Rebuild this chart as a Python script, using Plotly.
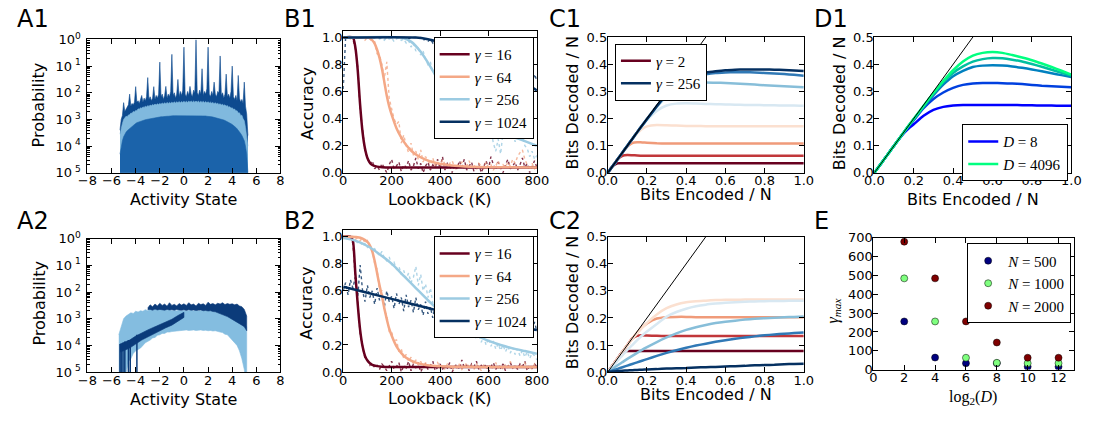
import plotly.graph_objects as go

W, H = 1099, 423
FONT = "DejaVu Sans"
SERIF = "Liberation Serif"


def px(x):
    return x / W


def py(y):
    return 1 - y / H


# ------------------------------------------------------------------ A1 data
# log10(probability) per activity-state bin
a1_state = [round(-5.3 + 0.1 * i, 1) for i in range(107)]
a1_peak_log = [
    -3.40, -3.00, -2.85, -2.37,
    -2.70, -2.60, -2.55, -2.45, -2.05, -2.50, -2.40, -2.45, -2.35, -1.77,
    -2.35, -2.30, -2.40, -2.25, -2.10, -2.35, -2.20, -2.30, -2.15, -1.43,
    -2.25, -2.15, -2.30, -2.20, -1.77, -2.25, -2.10, -2.20, -2.05, -0.85,
    -2.15, -2.05, -2.25, -2.10, -1.76, -2.20, -2.05, -2.15, -1.95, -0.56,
    -2.10, -2.00, -2.20, -2.05, -1.50, -2.15, -1.95, -2.10, -1.90, -0.29,
    -2.05, -2.15, -1.95, -2.10, -1.76, -2.05, -2.15, -1.90, -2.00, -0.01,
    -2.00, -2.10, -1.90, -2.05, -1.10, -2.10, -1.95, -2.05, -1.85, -0.29,
    -2.05, -2.15, -1.95, -2.10, -1.60, -2.05, -2.15, -1.95, -2.00, -0.62,
    -2.10, -2.00, -2.20, -2.05, -1.30, -2.15, -2.05, -2.20, -1.95, -1.00,
    -2.15, -2.25, -2.10, -2.30, -1.35, -2.20, -2.35, -2.25, -2.40, -1.60,
    -2.50, -2.80, -3.60,
]
a1_band_log = [
    -3.55, -3.30, -3.15, -3.00,
    -2.95, -2.88, -2.90, -2.83, -2.82, -2.76, -2.77, -2.70, -2.72, -2.66,
    -2.67, -2.60, -2.62, -2.56, -2.58, -2.53, -2.55, -2.50, -2.53, -2.48,
    -2.51, -2.46, -2.49, -2.44, -2.47, -2.42, -2.46, -2.41, -2.44, -2.40,
    -2.43, -2.38, -2.42, -2.37, -2.41, -2.36, -2.40, -2.36, -2.39, -2.35,
    -2.39, -2.34, -2.38, -2.34, -2.37, -2.33, -2.37, -2.33, -2.36, -2.32,
    -2.36, -2.32, -2.36, -2.31, -2.35, -2.31, -2.35, -2.31, -2.35, -2.31,
    -2.35, -2.31, -2.36, -2.32, -2.36, -2.32, -2.37, -2.33, -2.37, -2.34,
    -2.38, -2.35, -2.39, -2.36, -2.41, -2.37, -2.42, -2.39, -2.44, -2.41,
    -2.46, -2.43, -2.48, -2.45, -2.50, -2.48, -2.54, -2.52, -2.58, -2.56,
    -2.62, -2.61, -2.68, -2.67, -2.76, -2.75, -2.85, -2.84, -2.97, -3.05,
    -3.30, -3.70, -4.00,
]
a1_core_log = [
    -4.30, -4.00, -3.80, -3.65,
    -3.55, -3.48, -3.42, -3.38, -3.33, -3.28, -3.25, -3.21, -3.18, -3.15,
    -3.12, -3.10, -3.08, -3.06, -3.05, -3.03, -3.02, -3.01, -3.00, -2.99,
    -2.98, -2.97, -2.96, -2.95, -2.94, -2.93, -2.93, -2.92, -2.92, -2.91,
    -2.90, -2.90, -2.89, -2.89, -2.88, -2.88, -2.88, -2.87, -2.87, -2.87,
    -2.86, -2.86, -2.86, -2.86, -2.85, -2.85, -2.85, -2.85, -2.85, -2.85,
    -2.85, -2.85, -2.85, -2.85, -2.85, -2.85, -2.85, -2.85, -2.85, -2.85,
    -2.85, -2.85, -2.86, -2.86, -2.86, -2.87, -2.87, -2.87, -2.88, -2.88,
    -2.89, -2.89, -2.90, -2.91, -2.92, -2.93, -2.94, -2.95, -2.96, -2.97,
    -2.98, -3.00, -3.02, -3.04, -3.06, -3.08, -3.10, -3.13, -3.16, -3.19,
    -3.22, -3.26, -3.30, -3.35, -3.40, -3.46, -3.53, -3.60, -3.70, -3.80,
    -4.00, -4.30, -5.00,
]

# ------------------------------------------------------------------ A2 data
a2_light_state = [round(-5.4 + 0.2 * i, 1) for i in range(54)]
a2_light_hi_log = [
    -3.60, -3.30, -3.00, -2.90, -2.85, -2.78, -2.80, -2.72, -2.75, -2.70,
    -2.72, -2.66, -2.70, -2.65, -2.68, -2.64, -2.67, -2.63, -2.66, -2.64,
    -2.68, -2.65, -2.70, -2.68, -2.70, -2.67, -2.70, -2.68, -2.71, -2.69,
    -2.67, -2.70, -2.68, -2.71, -2.69, -2.67, -2.70, -2.68, -2.71, -2.72,
    -2.72, -2.76, -2.80, -2.84, -2.86, -2.85, -2.90, -2.92, -2.95, -3.00,
    -3.05, -3.10, -3.20, -3.30,
]
a2_light_lo_log = [
    -5.5, -5.5, -5.5, -5.0, -4.6, -4.5, -4.3, -4.2, -4.15, -4.1,
    -4.0, -3.9, -3.85, -3.8, -3.72, -3.7, -3.62, -3.6, -3.55, -3.55,
    -3.5, -3.5, -3.48, -3.45, -3.44, -3.43, -3.42, -3.43, -3.42, -3.44,
    -3.43, -3.42, -3.44, -3.43, -3.42, -3.44, -3.43, -3.45, -3.44, -3.46,
    -3.45, -3.48, -3.5, -3.52, -3.58, -3.6, -3.7, -3.8, -3.9, -4.0,
    -4.2, -4.5, -4.9, -5.5,
]
a2_dark_state = [round(-3.0 + 0.2 * i, 1) for i in range(42)]
a2_dark_hi_log = [
    -2.60, -2.48, -2.55, -2.45, -2.52, -2.42, -2.50, -2.45, -2.53, -2.40,
    -2.50, -2.46, -2.52, -2.43, -2.49, -2.44, -2.50, -2.40, -2.48, -2.45,
    -2.52, -2.42, -2.47, -2.44, -2.50, -2.38, -2.46, -2.43, -2.48, -2.42,
    -2.45, -2.40, -2.47, -2.43, -2.46, -2.44, -2.48, -2.45, -2.52, -2.55,
    -2.65, -2.90,
]
a2_dark_lo_log = [
    -2.66, -2.65, -2.68, -2.64, -2.67, -2.65, -2.66, -2.68, -2.65, -2.67,
    -2.66, -2.68, -2.65, -2.67, -2.68, -2.66, -2.69, -2.66, -2.68, -2.67,
    -2.69, -2.68, -2.67, -2.70, -2.69, -2.71, -2.70, -2.73, -2.74, -2.78,
    -2.82, -2.85, -2.88, -2.92, -2.97, -3.02, -3.08, -3.13, -3.18, -3.24,
    -3.30, -3.45,
]
a2_tail_state = [-5.3, -5.0, -4.5, -4.0, -3.5, -3.0, -2.5, -2.0, -1.5, -1.0, -0.5, 0.0]
a2_tail_hi_log = [-3.95, -3.9, -3.8, -3.65, -3.52, -3.42, -3.32, -3.22, -3.12, -3.02, -2.88, -2.76]
a2_tail_lo_log = [-4.25, -4.2, -4.1, -3.95, -3.8, -3.68, -3.56, -3.45, -3.34, -3.24, -3.1, -2.95]
a2_dropout_state = [-5.3, -5.2, -5.05, -4.9, -4.6, -4.45, -3.9]
a2_dropout_top_log = [-3.95, -4.0, -3.9, -3.85, -3.8, -3.8, -3.6]

# ------------------------------------------------------------------ B data
b_gammas = ["16", "64", "256", "1024"]
b_lookback = list(range(0, 801, 10))

b1_data = {
    "16": [1.0, 1.0, 1.0, 1.0, 0.99,
           0.92, 0.78, 0.47, 0.32, 0.15, 0.12, 0.06, 0.09, 0.03, 0.05,
           0.02, 0.07, 0.04, 0.0, 0.06, 0.1, 0.03, 0.05, 0.08, 0.01,
           0.06, 0.04, 0.09, 0.02, 0.05, 0.11, 0.03, 0.07, 0.0, 0.05,
           0.08, 0.02, 0.06, 0.04, 0.1, 0.03, 0.12, 0.02, 0.07, 0.05,
           0.0, 0.06, 0.03, 0.09, 0.04, 0.1, 0.02, 0.05, 0.08, 0.01,
           0.04, 0.07, 0.0, 0.05, 0.09, 0.03, 0.12, 0.06, 0.02, 0.08,
           0.04, 0.0, 0.06, 0.1, 0.03, 0.05, 0.08, 0.02, 0.06, 0.11,
           0.04, 0.07, 0.0, 0.05, 0.09, 0.04],
    "64": [1.0, 1.0, 1.0, 0.99, 1.0, 1.0, 0.99, 1.0, 1.0, 0.98, 1.0,
           0.99, 0.97, 0.97, 0.88, 0.87, 0.8, 0.7, 0.82, 0.55, 0.47,
           0.4, 0.36, 0.38, 0.22, 0.28, 0.2, 0.15, 0.22, 0.13, 0.16,
           0.1, 0.17, 0.08, 0.12, 0.09, 0.06, 0.11, 0.05, 0.08, 0.04,
           0.1, 0.06, 0.03, 0.07, 0.09, 0.04, 0.02, 0.06, 0.08, 0.03,
           0.05, 0.09, 0.04, 0.06, 0.02, 0.07, 0.05, 0.03, 0.08, 0.04,
           0.06, 0.02, 0.05, 0.09, 0.03, 0.06, 0.04, 0.08, 0.05, 0.1,
           0.07, 0.12, 0.15, 0.17, 0.1, 0.06, 0.04, 0.07, 0.03, 0.05],
    "256": [1.0, 1.0, 1.0, 1.0, 1.0, 1.0, 1.0, 1.0, 1.0, 1.0, 1.0, 1.0, 1.0,
            1.0, 1.0, 0.99, 1.0, 0.98, 1.0, 0.99, 1.0, 0.97, 0.99, 1.0, 0.98,
            0.99, 0.96, 0.98, 0.93, 0.96, 0.9, 0.92, 0.87, 0.9, 0.84,
            0.8, 0.82, 0.74, 0.77, 0.68, 0.66, 0.6, 0.63, 0.55, 0.5,
            0.53, 0.45, 0.41, 0.44, 0.37, 0.4, 0.36, 0.38, 0.34, 0.37,
            0.33, 0.37, 0.32, 0.3, 0.35, 0.28, 0.32, 0.22, 0.16, 0.25,
            0.14, 0.3, 0.34, 0.27, 0.32, 0.29, 0.23, 0.31, 0.34, 0.28,
            0.2, 0.18, 0.12, 0.16, 0.1, 0.13],
    "1024": [0.62,
             1.0, 1.0, 1.0, 1.0, 1.0, 1.0, 1.0, 1.0, 1.0, 1.0,
             1.0, 1.0, 1.0, 1.0, 1.0, 1.0, 1.0, 1.0, 1.0, 1.0,
             1.0, 1.0, 1.0, 1.0, 1.0, 1.0, 0.99, 1.0, 1.0,
             1.0, 0.99, 1.0, 0.98, 0.99, 0.97, 0.99, 0.96, 0.98, 0.95,
             0.97, 0.94, 0.96, 0.93, 0.95, 0.92, 0.94, 0.9, 0.93, 0.89,
             0.91, 0.87, 0.9, 0.86, 0.88, 0.84, 0.87, 0.82, 0.85, 0.8,
             0.83, 0.78, 0.81, 0.76, 0.8, 0.74, 0.78, 0.72, 0.76, 0.7,
             0.74, 0.68, 0.72, 0.66, 0.7, 0.64, 0.69, 0.72, 0.66, 0.73, 0.68],
}
b1_fit_k = {
    "16": [0, 40, 50, 60, 70, 80, 90, 100, 110, 120, 140, 160, 200, 800],
    "64": [0, 100, 110, 120, 130, 140, 150, 160, 170, 180, 190, 200, 220, 240, 260, 280,
           300, 340, 380, 420, 460, 500, 600, 800],
    "256": [0, 240, 280, 320, 360, 400, 440, 480, 520, 560, 600, 650, 700, 750, 800],
    "1024": [0, 300, 350, 400, 450, 500, 550, 600, 650, 700, 750, 800],
}
b1_fit_acc = {
    "16": [1.0, 1.0, 0.93, 0.76, 0.5, 0.3, 0.18, 0.11, 0.075, 0.058, 0.046, 0.042, 0.04, 0.04],
    "64": [1.0, 1.0, 0.995, 0.98, 0.955, 0.91, 0.85, 0.77, 0.67, 0.57, 0.49, 0.43, 0.33, 0.26,
           0.205, 0.165, 0.135, 0.097, 0.075, 0.061, 0.052, 0.047, 0.042, 0.04],
    "256": [1.0, 1.0, 0.97, 0.895, 0.785, 0.66, 0.54, 0.45, 0.39, 0.355, 0.33, 0.3, 0.267,
            0.234, 0.2],
    "1024": [1.0, 1.0, 0.987, 0.965, 0.937, 0.903, 0.864, 0.82, 0.77, 0.72, 0.665, 0.61],
}

b2_data = {
    "16": [1.0, 1.0, 1.0, 0.99,
           0.95, 0.7, 0.52, 0.28, 0.2, 0.1, 0.09, 0.05, 0.07, 0.03, 0.05, 0.02, 0.06, 0.04, 0.01, 0.05,
           0.08, 0.02, 0.04, 0.07, 0.0, 0.05, 0.03, 0.08, 0.01, 0.06,
           0.03, 0.07, 0.0, 0.04, 0.06, 0.02, 0.05, 0.08, 0.01, 0.04,
           0.06, 0.02, 0.05, 0.03, 0.07, 0.0, 0.04, 0.06, 0.02, 0.09,
           0.03, 0.05, 0.01, 0.06, 0.04, 0.08, 0.02, 0.05, 0.03, 0.06,
           0.0, 0.04, 0.07, 0.02, 0.05, 0.03, 0.06, 0.01, 0.04, 0.07,
           0.03, 0.05, 0.02, 0.06, 0.04, 0.08, 0.01, 0.05, 0.03, 0.06, 0.04],
    "64": [0.98, 1.0, 0.99, 0.97, 1.0, 0.98, 0.99, 0.97, 0.99, 0.95,
           0.97, 0.92, 0.9, 0.8, 0.76, 0.6, 0.6, 0.45, 0.42, 0.3,
           0.3, 0.22, 0.24, 0.15, 0.17, 0.1, 0.13, 0.08, 0.11, 0.06,
           0.09, 0.05, 0.08, 0.03, 0.07, 0.04, 0.06, 0.02, 0.05, 0.07,
           0.03, 0.05, 0.02, 0.06, 0.04, 0.01, 0.05, 0.03, 0.06, 0.02,
           0.04, 0.07, 0.03, 0.05, 0.02, 0.06, 0.04, 0.01, 0.05, 0.03,
           0.06, 0.02, 0.04, 0.07, 0.03, 0.05, 0.02, 0.06, 0.04, 0.08,
           0.03, 0.05, 0.02, 0.06, 0.04, 0.07, 0.03, 0.05, 0.02, 0.06, 0.04],
    "256": [1.0, 0.98, 0.99, 0.97, 0.96, 0.98, 0.95, 0.96, 0.93, 0.95,
            0.92, 0.94, 0.9, 0.91, 0.88, 0.86, 0.89, 0.84, 0.82, 0.85,
            0.79, 0.81, 0.76, 0.78, 0.72, 0.75, 0.69, 0.73, 0.66, 0.7,
            0.78, 0.64, 0.72, 0.6, 0.65, 0.55, 0.62, 0.51, 0.55, 0.47,
            0.5, 0.43, 0.48, 0.4, 0.43, 0.36, 0.4, 0.33, 0.37, 0.3,
            0.34, 0.29, 0.31, 0.26, 0.3, 0.24, 0.28, 0.22, 0.26, 0.2,
            0.25, 0.19, 0.23, 0.17, 0.21, 0.16, 0.2, 0.15, 0.19, 0.14,
            0.18, 0.13, 0.17, 0.12, 0.16, 0.11, 0.15, 0.1, 0.14, 0.12, 0.09],
    "1024": [0.6, 0.66, 0.57, 0.68, 0.62, 0.7, 0.55, 0.79, 0.6, 0.52,
             0.64, 0.55, 0.6, 0.5, 0.62, 0.53, 0.58, 0.48, 0.6, 0.52,
             0.56, 0.47, 0.58, 0.5, 0.55, 0.45, 0.57, 0.48, 0.53, 0.44,
             0.55, 0.46, 0.5, 0.42, 0.52, 0.43, 0.48, 0.4, 0.5, 0.42,
             0.47, 0.38, 0.46, 0.4, 0.35, 0.44, 0.37, 0.42, 0.34, 0.43,
             0.36, 0.41, 0.33, 0.4, 0.35, 0.42, 0.32, 0.39, 0.34, 0.4,
             0.31, 0.38, 0.33, 0.37, 0.3, 0.36, 0.32, 0.38, 0.29, 0.35,
             0.31, 0.36, 0.28, 0.34, 0.3, 0.35, 0.27, 0.33, 0.29, 0.37, 0.3],
}
b2_fit_k = {
    "16": [0, 30, 40, 50, 60, 70, 80, 90, 100, 110, 120, 140, 160, 200, 800],
    "64": [0, 60, 80, 100, 110, 120, 130, 140, 150, 160, 170, 180, 190, 200, 220, 240, 260,
           280, 300, 340, 380, 450, 550, 800],
    "256": [0, 50, 100, 150, 200, 250, 300, 350, 400, 450, 500, 550, 600, 650, 700, 750, 800],
    "1024": [0, 100, 200, 300, 400, 500, 600, 700, 800],
}
b2_fit_acc = {
    "16": [1.0, 1.0, 0.97, 0.73, 0.5, 0.31, 0.19, 0.12, 0.085, 0.065, 0.053, 0.044, 0.04,
           0.038, 0.038],
    "64": [1.0, 0.995, 0.985, 0.96, 0.935, 0.89, 0.82, 0.73, 0.64, 0.56, 0.47, 0.39, 0.32,
           0.27, 0.19, 0.14, 0.105, 0.085, 0.07, 0.053, 0.045, 0.04, 0.038, 0.037],
    "256": [0.99, 0.97, 0.93, 0.87, 0.8, 0.71, 0.62, 0.53, 0.45, 0.38, 0.32, 0.27, 0.23, 0.2,
            0.175, 0.155, 0.135],
    "1024": [0.63, 0.585, 0.54, 0.495, 0.45, 0.41, 0.375, 0.34, 0.31],
}

# ------------------------------------------------------------------ C / D data
bits_encoded = [0.0, 0.025, 0.05, 0.075, 0.1, 0.125, 0.15, 0.175, 0.2, 0.25, 0.3, 0.35, 0.4,
                0.45, 0.5, 0.55, 0.6, 0.65, 0.7, 0.75, 0.8, 0.85, 0.9, 0.95, 1.0]
identity_line = [0.0, 1.0]
c_gammas = ["2", "4", "8", "16", "32", "64", "128", "256"]
c1_decoded = {
    "2": [0.0, 0.025, 0.035, 0.035, 0.035, 0.035, 0.035, 0.035, 0.035, 0.035, 0.035, 0.035,
          0.035, 0.035, 0.035, 0.035, 0.035, 0.035, 0.035, 0.035, 0.035, 0.035, 0.035, 0.035, 0.035],
    "4": [0.0, 0.025, 0.05, 0.063, 0.066, 0.065, 0.064, 0.063, 0.063, 0.063, 0.063, 0.063,
          0.063, 0.063, 0.063, 0.063, 0.063, 0.063, 0.063, 0.063, 0.063, 0.063, 0.063, 0.063, 0.063],
    "8": [0.0, 0.025, 0.05, 0.075, 0.097, 0.11, 0.113, 0.112, 0.111, 0.109, 0.108, 0.108,
          0.108, 0.108, 0.108, 0.108, 0.108, 0.108, 0.108, 0.108, 0.108, 0.108, 0.108, 0.108, 0.108],
    "16": [0.0, 0.025, 0.05, 0.075, 0.1, 0.124, 0.145, 0.162, 0.171, 0.176, 0.175, 0.174,
           0.173, 0.173, 0.172, 0.172, 0.172, 0.172, 0.172, 0.172, 0.172, 0.172, 0.172, 0.172, 0.172],
    "32": [0.0, 0.025, 0.05, 0.075, 0.1, 0.125, 0.149, 0.172, 0.194, 0.228, 0.248, 0.255,
           0.256, 0.255, 0.254, 0.253, 0.252, 0.251, 0.25, 0.25, 0.249, 0.249, 0.248, 0.248, 0.247],
    "64": [0.0, 0.025, 0.05, 0.075, 0.1, 0.125, 0.15, 0.174, 0.198, 0.243, 0.283, 0.312,
           0.327, 0.332, 0.333, 0.332, 0.331, 0.329, 0.327, 0.325, 0.323, 0.321, 0.319, 0.317, 0.315],
    "128": [0.0, 0.025, 0.05, 0.075, 0.1, 0.125, 0.15, 0.174, 0.198, 0.245, 0.29, 0.322,
            0.342, 0.355, 0.363, 0.368, 0.37, 0.371, 0.371, 0.37, 0.368, 0.366, 0.364, 0.361, 0.358],
    "256": [0.0, 0.025, 0.05, 0.075, 0.1, 0.125, 0.15, 0.174, 0.198, 0.246, 0.292, 0.327,
            0.348, 0.361, 0.369, 0.374, 0.378, 0.38, 0.381, 0.381, 0.381, 0.38, 0.379, 0.377, 0.375],
}
c2_decoded = {
    "2": [0.0, 0.025, 0.05, 0.075, 0.078, 0.078, 0.078, 0.078, 0.078, 0.078, 0.078, 0.078,
          0.078, 0.078, 0.078, 0.078, 0.078, 0.078, 0.078, 0.078, 0.078, 0.078, 0.078, 0.078, 0.078],
    "4": [0.0, 0.025, 0.05, 0.075, 0.1, 0.124, 0.134, 0.136, 0.135, 0.134, 0.133, 0.133,
          0.133, 0.133, 0.133, 0.133, 0.133, 0.133, 0.133, 0.133, 0.133, 0.133, 0.133, 0.133, 0.133],
    "8": [0.0, 0.025, 0.05, 0.075, 0.1, 0.124, 0.146, 0.165, 0.18, 0.198, 0.203, 0.204,
          0.204, 0.203, 0.203, 0.203, 0.203, 0.203, 0.203, 0.203, 0.203, 0.203, 0.203, 0.203, 0.203],
    "16": [0.0, 0.025, 0.05, 0.075, 0.099, 0.122, 0.143, 0.163, 0.182, 0.213, 0.236, 0.25,
           0.258, 0.262, 0.264, 0.266, 0.267, 0.267, 0.268, 0.268, 0.268, 0.268, 0.268, 0.268, 0.268],
    "32": [0.0, 0.021, 0.042, 0.062, 0.082, 0.1, 0.118, 0.135, 0.15, 0.178, 0.205, 0.222,
           0.234, 0.243, 0.249, 0.253, 0.256, 0.258, 0.26, 0.261, 0.262, 0.263, 0.263, 0.264, 0.264],
    "64": [0.0, 0.012, 0.025, 0.037, 0.049, 0.06, 0.071, 0.082, 0.092, 0.111, 0.128, 0.143,
           0.156, 0.166, 0.174, 0.181, 0.186, 0.19, 0.194, 0.197, 0.199, 0.201, 0.203, 0.204, 0.205],
    "128": [0.0, 0.006, 0.012, 0.018, 0.024, 0.03, 0.036, 0.042, 0.048, 0.06, 0.071, 0.081,
            0.09, 0.098, 0.105, 0.112, 0.118, 0.123, 0.128, 0.132, 0.136, 0.139, 0.142, 0.144, 0.146],
    "256": [0.0, 0.002, 0.004, 0.005, 0.006, 0.007, 0.008, 0.009, 0.01, 0.011, 0.013, 0.014,
            0.015, 0.017, 0.018, 0.019, 0.021, 0.022, 0.023, 0.025, 0.026, 0.027, 0.029, 0.03, 0.031],
}
d_dims = ["8", "64", "256", "1024", "4096"]
d1_decoded = {
    "8": [0.0, 0.025, 0.05, 0.075, 0.1, 0.124, 0.146, 0.164, 0.179, 0.21, 0.232, 0.243,
          0.248, 0.25, 0.25, 0.25, 0.25, 0.25, 0.25, 0.249, 0.249, 0.248, 0.248, 0.247, 0.247],
    "64": [0.0, 0.025, 0.05, 0.075, 0.1, 0.125, 0.149, 0.172, 0.194, 0.238, 0.272, 0.296,
           0.313, 0.324, 0.329, 0.331, 0.331, 0.33, 0.329, 0.327, 0.324, 0.321, 0.319, 0.317, 0.315],
    "256": [0.0, 0.025, 0.05, 0.075, 0.1, 0.125, 0.15, 0.174, 0.197, 0.243, 0.286, 0.325,
            0.356, 0.376, 0.39, 0.395, 0.396, 0.395, 0.392, 0.387, 0.381, 0.374, 0.367, 0.36, 0.353],
    "1024": [0.0, 0.025, 0.05, 0.075, 0.1, 0.125, 0.15, 0.174, 0.198, 0.245, 0.292, 0.335,
             0.368, 0.392, 0.41, 0.419, 0.423, 0.422, 0.417, 0.41, 0.401, 0.391, 0.38, 0.369, 0.358],
    "4096": [0.0, 0.025, 0.05, 0.075, 0.1, 0.125, 0.15, 0.175, 0.199, 0.247, 0.294, 0.338,
             0.378, 0.41, 0.432, 0.442, 0.445, 0.442, 0.434, 0.425, 0.415, 0.403, 0.39, 0.376, 0.362],
}

# ------------------------------------------------------------------ E data
e_log2_d = [2, 4, 6, 8, 10, 12]
e_n_labels = ["500", "1000", "2000"]
e_gamma_max = {
    "500": [256, 64, 34, 34, 15, 15],
    "1000": [485, 256, 63, 36, 34, 34],
    "2000": [680, 485, 256, 144, 63, 63],
}

# ------------------------------------------------------------------ styles
b_colors = {"16": "#67001f", "64": "#f4a886", "256": "#9ccbe2", "1024": "#053061"}
c_colors = ["#67001f", "#c1373a", "#f09b7a", "#fbe0d0", "#d8e8f2", "#87bed9", "#3079b6", "#053061"]
d_colors = ["#0000ff", "#0040df", "#0080bf", "#00bf9f", "#00ff80"]
e_colors = {"500": "#00007f", "1000": "#7fff7f", "2000": "#7f0000"}

panels = {  # pixel boxes: left, right, top, bottom
    1: (79, 276, 31.7, 170.7),     # A1
    2: (340, 537.7, 22.7, 170.7),  # B1
    3: (610, 810, 29.3, 170.7),    # C1
    4: (882, 1083, 29.3, 170.7),   # D1
    5: (79, 276, 239.3, 378.3),    # A2
    6: (340, 537.7, 230, 378.3),   # B2
    7: (610, 810, 237.3, 378.3),   # C2
    8: (881, 1085.7, 238.5, 375.7),  # E
}


def ax_names(i):
    return ("x", "y") if i == 1 else (f"x{i}", f"y{i}")


fig = go.Figure()


def pw(vals):
    return [10 ** v for v in vals]


# ---- A1
for vals, col in [(a1_peak_log, "#0d4a8f"), (a1_band_log, "#80b9de"), (a1_core_log, "#1b63aa")]:
    fig.add_trace(go.Scatter(x=a1_state, y=pw(vals), mode="lines", fill="tozeroy",
                             fillcolor=col, line=dict(color=col, width=0.6),
                             xaxis="x", yaxis="y", showlegend=False, hoverinfo="skip"))

# ---- A2
for xs, hi, lo, col in [(a2_light_state, a2_light_hi_log, a2_light_lo_log, "#84bde0"),
                        (a2_tail_state, a2_tail_hi_log, a2_tail_lo_log, "#0b3b7a"),
                        (a2_dark_state, a2_dark_hi_log, a2_dark_lo_log, "#0b3b7a")]:
    fig.add_trace(go.Scatter(x=xs + xs[::-1], y=pw(hi) + pw(lo)[::-1], mode="lines",
                             fill="toself", fillcolor=col, line=dict(color=col, width=0.6),
                             xaxis="x5", yaxis="y5", showlegend=False, hoverinfo="skip"))
drop_x, drop_y = [], []
for s, t in zip(a2_dropout_state, a2_dropout_top_log):
    drop_x += [s, s, None]
    drop_y += [10 ** t, 1e-7, None]
fig.add_trace(go.Scatter(x=drop_x, y=drop_y, mode="lines", line=dict(color="#0b3b7a", width=1.5),
                         xaxis="x5", yaxis="y5", showlegend=False, hoverinfo="skip"))

# ---- B1 / B2
for idx, data, fk, fa, leg in [(2, b1_data, b1_fit_k, b1_fit_acc, "legend"),
                               (6, b2_data, b2_fit_k, b2_fit_acc, "legend2")]:
    xa, ya = ax_names(idx)
    for g in b_gammas:
        fig.add_trace(go.Scatter(x=b_lookback, y=data[g], mode="lines",
                                 line=dict(color=b_colors[g], width=1.4, dash="dot"),
                                 opacity=0.8, xaxis=xa, yaxis=ya, showlegend=False,
                                 hoverinfo="skip"))
    for g in b_gammas:
        fig.add_trace(go.Scatter(x=fk[g], y=fa[g], mode="lines",
                                 line=dict(color=b_colors[g], width=2.5, shape="spline",
                                           smoothing=0.6),
                                 xaxis=xa, yaxis=ya, name=f"<i>γ</i> = {g}", legend=leg,
                                 showlegend=True))

# ---- C1 / C2
for idx, dec, leg in [(3, c1_decoded, "legend3"), (7, c2_decoded, None)]:
    xa, ya = ax_names(idx)
    for k, g in enumerate(c_gammas):
        show = leg is not None and g in ("2", "256")
        fig.add_trace(go.Scatter(x=bits_encoded, y=dec[g], mode="lines",
                                 line=dict(color=c_colors[k], width=2.5, shape="spline",
                                           smoothing=0.5),
                                 xaxis=xa, yaxis=ya, name=f"<i>γ</i> = {g}",
                                 legend=leg if leg else "legend", showlegend=show))
    fig.add_trace(go.Scatter(x=identity_line, y=identity_line, mode="lines",
                             line=dict(color="black", width=1), xaxis=xa, yaxis=ya,
                             showlegend=False, hoverinfo="skip"))

# ---- D1
for k, d in enumerate(d_dims):
    fig.add_trace(go.Scatter(x=bits_encoded, y=d1_decoded[d], mode="lines",
                             line=dict(color=d_colors[k], width=2.5, shape="spline",
                                       smoothing=0.5),
                             xaxis="x4", yaxis="y4", name=f"<i>D</i> = {d}", legend="legend4",
                             showlegend=d in ("8", "4096")))
fig.add_trace(go.Scatter(x=identity_line, y=identity_line, mode="lines",
                         line=dict(color="black", width=1), xaxis="x4", yaxis="y4",
                         showlegend=False, hoverinfo="skip"))

# ---- E
for n in e_n_labels:
    fig.add_trace(go.Scatter(x=e_log2_d, y=e_gamma_max[n], mode="markers",
                             marker=dict(size=7, color=e_colors[n],
                                         line=dict(color="black", width=0.5)),
                             xaxis="x8", yaxis="y8", name=f"<i>N</i> = {n}", legend="legend5"))

# ------------------------------------------------------------------ axes
tickfont = dict(family=FONT, size=13, color="black")


def style(**kw):
    base = dict(showline=True, linecolor="black", linewidth=1, mirror="ticks", ticks="inside",
                ticklen=5, tickwidth=1, tickcolor="black", showgrid=False, zeroline=False,
                tickfont=tickfont, fixedrange=True)
    base.update(kw)
    return base


log_vals = [1, 0.1, 0.01, 0.001, 1e-4, 1e-5]
log_text = ["10<sup>0</sup>"] + [f"10<sup>\u00a0{k}</sup>" for k in range(1, 6)]
act_ticks = [-8, -6, -4, -2, 0, 2, 4, 6, 8]
XSO, YSO = -4, -3   # tick-label standoff tweaks

axes_cfg = {
    1: (dict(range=[-8, 8], tickvals=act_ticks, ticklabelstandoff=XSO),
        dict(type="log", range=[-5, 0], tickvals=log_vals, ticktext=log_text,
             ticklabelstandoff=3,
             minor=dict(ticks="inside", ticklen=2.5, tickcolor="black", dtick="D1"))),
    5: (dict(range=[-8, 8], tickvals=act_ticks, ticklabelstandoff=XSO),
        dict(type="log", range=[-5, 0], tickvals=log_vals, ticktext=log_text,
             ticklabelstandoff=3,
             minor=dict(ticks="inside", ticklen=2.5, tickcolor="black", dtick="D1"))),
    2: (dict(range=[0, 800], dtick=200, ticklabelstandoff=XSO),
        dict(range=[0, 1.05], tickvals=[0, .2, .4, .6, .8, 1.0], tickformat=".1f",
             ticklabelstandoff=YSO)),
    6: (dict(range=[0, 800], dtick=200, ticklabelstandoff=XSO),
        dict(range=[0, 1.05], tickvals=[0, .2, .4, .6, .8, 1.0], tickformat=".1f",
             ticklabelstandoff=YSO)),
    3: (dict(range=[0, 1], dtick=0.2, tickformat=".1f", ticklabelstandoff=XSO),
        dict(range=[0, 0.5], dtick=0.1, tickformat=".1f", ticklabelstandoff=YSO)),
    4: (dict(range=[0, 1], dtick=0.2, tickformat=".1f", ticklabelstandoff=XSO),
        dict(range=[0, 0.5], dtick=0.1, tickformat=".1f", ticklabelstandoff=YSO)),
    7: (dict(range=[0, 1], dtick=0.2, tickformat=".1f", ticklabelstandoff=XSO),
        dict(range=[0, 0.5], dtick=0.1, tickformat=".1f", ticklabelstandoff=YSO)),
    8: (dict(range=[0, 13], tickvals=[0, 2, 4, 6, 8, 10, 12], ticklabelstandoff=XSO),
        dict(range=[0, 700], dtick=100, ticklabelstandoff=YSO)),
}

layout = dict(width=W, height=H, margin=dict(l=0, r=0, t=0, b=0), paper_bgcolor="white",
              plot_bgcolor="white", font=dict(family=FONT, color="black"), showlegend=True)
for i, (x0, x1, yt, yb) in panels.items():
    xk = "xaxis" if i == 1 else f"xaxis{i}"
    yk = "yaxis" if i == 1 else f"yaxis{i}"
    xa, ya = ax_names(i)
    xcfg, ycfg = axes_cfg[i]
    layout[xk] = style(domain=[px(x0), px(x1)], anchor=ya, **xcfg)
    layout[yk] = style(domain=[py(yb), py(yt)], anchor=xa, **ycfg)


def legend_box(x, y):
    return dict(x=px(x), y=py(y), xanchor="left", yanchor="top", bgcolor="white",
                bordercolor="black", borderwidth=1,
                font=dict(family=SERIF, size=15, color="black"), itemwidth=30,
                tracegroupgap=0, traceorder="normal")


layout["legend"] = legend_box(432.3, 29.3)
layout["legend2"] = legend_box(432.3, 236.7)
layout["legend3"] = legend_box(617.3, 36)
layout["legend4"] = legend_box(971.7, 120)
layout["legend5"] = legend_box(976.7, 244.3)

# ------------------------------------------------------------------ text
ann = []
for txt, x, y in [("A1", 5, 10.5), ("B1", 278, 10.5), ("C1", 548, 10.5), ("D1", 818, 10.5),
                  ("A2", 5, 221), ("B2", 278, 220.5), ("C2", 548, 221), ("E", 818, 220.5)]:
    ann.append(dict(text=txt, x=px(x), y=py(y), xref="paper", yref="paper",
                    xanchor="left", yanchor="middle", showarrow=False,
                    font=dict(family=FONT, size=24, color="black")))

titles = [
    ("Probability", 30, 100, -90, FONT), ("Activity State", 177.5, 198, 0, FONT),
    ("Accuracy", 303, 98, -90, FONT), ("Lookback (K)", 439, 198, 0, FONT),
    ("Bits Decoded / N", 574, 98, -90, FONT), ("Bits Encoded / N", 710, 193, 0, FONT),
    ("Bits Decoded / N", 846, 98, -90, FONT), ("Bits Encoded / N", 982.5, 198.5, 0, FONT),
    ("Probability", 30, 306.5, -90, FONT), ("Activity State", 177.5, 406.5, 0, FONT),
    ("Accuracy", 303, 306, -90, FONT), ("Lookback (K)", 439, 405.5, 0, FONT),
    ("Bits Decoded / N", 574, 306, -90, FONT), ("Bits Encoded / N", 710, 402, 0, FONT),
    ("<i>γ</i><sub><i>max</i></sub>", 840, 315, -90, SERIF),
    ("log<sub>2</sub>(<i>D</i>)", 983, 405, 0, SERIF),
]
for txt, x, y, ang, fam in titles:
    ann.append(dict(text=txt, x=px(x), y=py(y), xref="paper", yref="paper",
                    xanchor="center", yanchor="middle", showarrow=False, textangle=ang,
                    font=dict(family=fam, size=16, color="black")))
layout["annotations"] = ann

fig.update_layout(**layout)
fig.write_html("out.html")
